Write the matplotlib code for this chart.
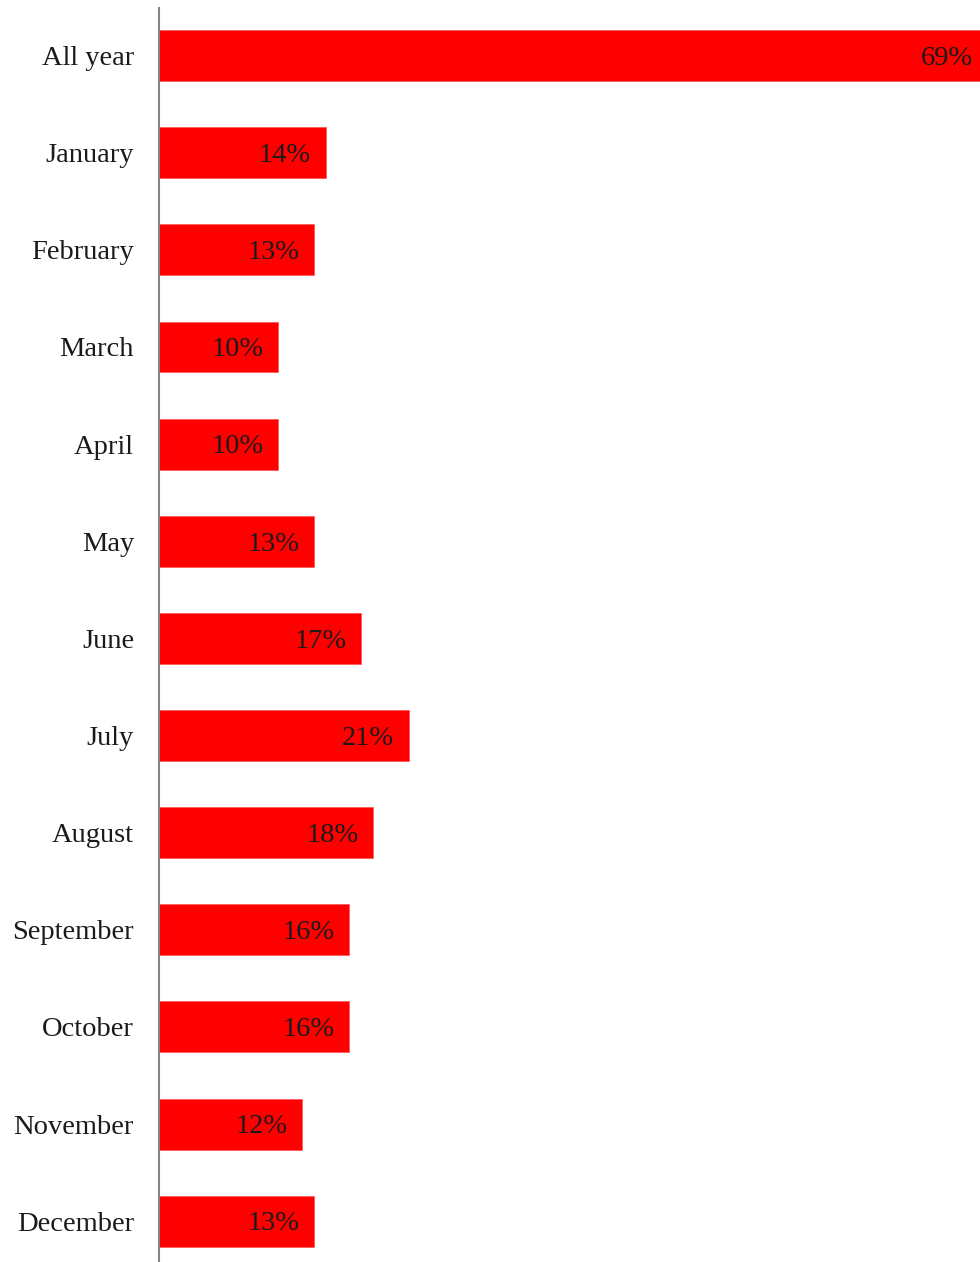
import matplotlib.pyplot as plt

months = ['All year', 'January', 'February', 'March', 'April', 'May', 'June',
          'July', 'August', 'September', 'October', 'November', 'December']
share = [69, 14, 13, 10, 10, 13, 17, 21, 18, 16, 16, 12, 13]

plt.rcParams['font.family'] = ['Liberation Serif', 'DejaVu Serif']

fig = plt.figure(figsize=(9.8, 12.62), dpi=100)
ax = fig.add_axes([159 / 980, 0, 1 - 159 / 980, 1254 / 1262])

ys = range(len(months))
ax.barh(ys, share, height=0.525, color='#ff0000', edgecolor='#ff5a5a', linewidth=0.6)
ax.set_xlim(0, max(share))
ax.set_ylim(len(months) - 1 + 0.42, -0.49)

ax.set_yticks(list(ys))
ax.set_yticklabels(months, fontsize=20.5, color='#1a1a1a')
ax.tick_params(axis='y', length=0, pad=18)
ax.set_xticks([])

for side in ['top', 'right', 'bottom']:
    ax.spines[side].set_visible(False)
ax.spines['left'].set_color('#868686')
ax.spines['left'].set_linewidth(1.5)

# value labels sit inside the bar end; the longest one is pushed to the edge
for y, v in zip(ys, share):
    pad = -5 if v == max(share) else -10.5
    ax.annotate(f'{v}%', xy=(v, y), xytext=(pad, -2), textcoords='offset points',
                ha='right', va='center', fontsize=20.5, color='#1a1a1a')

plt.savefig('out.png', dpi=100)
